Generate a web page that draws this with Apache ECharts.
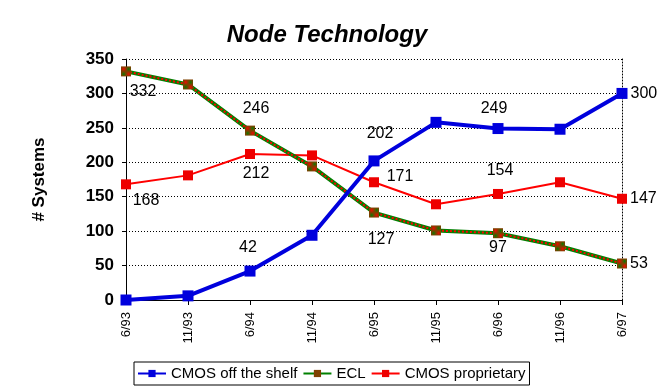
<!DOCTYPE html>
<html><head><meta charset="utf-8">
<script src="https://cdn.jsdelivr.net/npm/echarts@6/dist/echarts.min.js"></script>
<style>html,body{margin:0;padding:0;background:#fff}#c{width:657px;height:392px}</style>
</head><body><div id="c"></div>
<script>
var categories = ['6/93','11/93','6/94','11/94','6/95','11/95','6/96','11/96','6/97'];
var cmosShelf = [0, 6, 42, 94, 202, 258, 249, 248, 300];
var ecl = [332, 313, 246, 194, 127, 101, 97, 78, 53];
var cmosProp = [168, 181, 212, 210, 171, 139, 154, 171, 147];
// indices of points that carry a value label
var shelfLabelAt = [2, 4, 6, 8];
var eclLabelAt = [0, 2, 4, 6, 8];
var propLabelAt = [0, 2, 4, 6, 8];

// label placement (style only): offset from the point centre, or 'right'
var placement = {
  shelf: {2: [-2, -23], 4: [6, -27], 6: [-4, -20], 8: 'right'},
  ecl: {0: [17, 20], 2: [6, -22], 4: [7, 27], 6: [0, 14], 8: 'right'},
  prop: {0: [20, 16], 2: [6, 20], 4: [26, -6], 6: [2, -23], 8: 'right'}
};
var FONT = 'Liberation Sans, Arial, sans-serif';

function pattern(){
  var c = document.createElement('canvas'); c.width = 2; c.height = 2;
  var g = c.getContext('2d');
  g.fillStyle = '#008000'; g.fillRect(0,0,2,2);
  g.fillStyle = '#ff0000'; g.fillRect(0,0,1,1); g.fillRect(1,1,1,1);
  return {image: c, repeat: 'repeat'};
}
function build(vals, at, place){
  return vals.map(function(v,i){
    var item = {value: v};
    if (at.indexOf(i) >= 0) {
      var p = place[i];
      var lab = {show: true, color:'#000', fontSize: 16, fontFamily: FONT};
      if (p === 'right') { lab.position = 'right'; lab.distance = 3; }
      else { lab.position = 'inside'; lab.offset = p; lab.align = 'center'; lab.verticalAlign = 'middle'; }
      item.label = lab;
    }
    return item;
  });
}
var chart = echarts.init(document.getElementById('c'));
var pat = pattern();
chart.setOption({
  animation: false,
  backgroundColor: '#fff',
  title: {text: 'Node Technology', left: 322, textAlign: 'center', top: 18,
    textStyle: {fontFamily: FONT, fontSize: 24, fontWeight: 'bold', fontStyle: 'italic', color: '#000'}},
  grid: {left: 126, right: 35, top: 59, bottom: 92},
  legend: {left: 134, top: 362, itemGap: 5, itemWidth: 28, itemHeight: 9,
    borderColor: '#000', borderWidth: 1, borderRadius: 0, padding: [4, 4, 4, 3],
    textStyle: {fontFamily: FONT, fontSize: 15, color: '#000'},
    data: ['CMOS off the shelf', 'ECL', 'CMOS proprietary']},
  xAxis: {type: 'category', data: categories, boundaryGap: false,
    axisLine: {lineStyle: {color: '#000', width: 1}},
    axisTick: {show: true, alignWithLabel: true, length: 5, lineStyle: {color: '#000'}},
    axisLabel: {rotate: 90, color: '#000', fontSize: 13, fontFamily: FONT, margin: 12},
    splitLine: {show: false}},
  yAxis: [{type: 'value', min: 0, max: 350, interval: 50,
    name: '# Systems', nameLocation: 'middle', nameRotate: 90, nameGap: 78,
    nameTextStyle: {fontFamily: FONT, fontSize: 17, fontWeight: 'bold', color: '#000'},
    axisLine: {show: true, lineStyle: {color: '#000'}},
    axisTick: {show: true, length: 4, lineStyle: {color: '#000'}},
    axisLabel: {color: '#000', fontSize: 17, fontWeight: 'bold', fontFamily: FONT, margin: 12},
    splitLine: {show: true, lineStyle: {color: '#000', type: [1, 2], width: 1}}},
   {type: 'value', min: 0, max: 350, interval: 350, position: 'right',
    axisLine: {show: true, lineStyle: {color: '#000', type: [1, 2]}},
    axisTick: {show: false}, axisLabel: {show: false}, splitLine: {show: false}}],
  series: [
    {name: 'CMOS off the shelf', type: 'line', data: build(cmosShelf, shelfLabelAt, placement.shelf),
     symbol: 'rect', symbolSize: 11, z: 5,
     lineStyle: {color: '#0000dd', width: 4}, itemStyle: {color: '#0000dd'}},
    {name: 'ECL', type: 'line', data: build(ecl, eclLabelAt, placement.ecl),
     symbol: 'rect', symbolSize: 10, z: 4,
     lineStyle: {color: '#008000', width: 4}, itemStyle: {color: pat}},
    {name: 'ECL pattern', type: 'line', data: ecl, symbol: 'none', z: 4, silent: true,
     lineStyle: {color: '#ff0000', width: 2, type: [2, 2]}},
    {name: 'CMOS proprietary', type: 'line', data: build(cmosProp, propLabelAt, placement.prop),
     symbol: 'rect', symbolSize: 10, z: 3,
     lineStyle: {color: '#ff0000', width: 2}, itemStyle: {color: '#ee0000'}}
  ]
});
</script></body></html>
